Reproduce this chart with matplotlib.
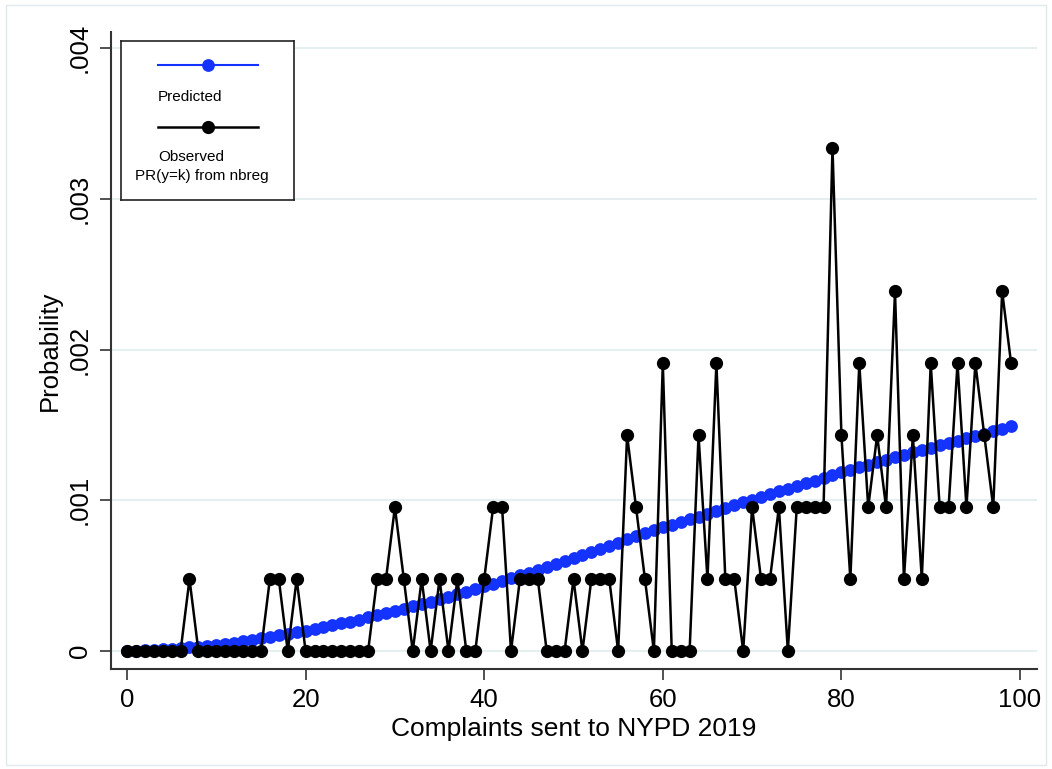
import matplotlib
matplotlib.use("Agg")
import matplotlib.pyplot as plt
from matplotlib.patches import Rectangle
from matplotlib.lines import Line2D
import numpy as np

plt.rcParams['font.family'] = ['Liberation Sans', 'DejaVu Sans']

# complaints count k = 0..99
k = np.arange(100)

# observed frequency, in units of one officer (1/2096 ~ 0.000477)
obs_units = [0, 0, 0, 0, 0, 0, 0, 1, 0, 0,
             0, 0, 0, 0, 0, 0, 1, 1, 0, 1,
             0, 0, 0, 0, 0, 0, 0, 0, 1, 1,
             2, 1, 0, 1, 0, 1, 0, 1, 0, 0,
             1, 2, 2, 0, 1, 1, 1, 0, 0, 0,
             1, 0, 1, 1, 1, 0, 3, 2, 1, 0,
             4, 0, 0, 0, 3, 1, 4, 1, 1, 0,
             2, 1, 1, 2, 0, 2, 2, 2, 2, 7,
             3, 1, 4, 2, 3, 2, 5, 1, 3, 1,
             4, 2, 2, 4, 2, 4, 3, 2, 5, 4]
unit = 0.000477
observed = np.array(obs_units) * unit

# predicted PR(y=k) from nbreg, in 1e-4
predicted_e4 = [0.00, 0.02, 0.05, 0.08, 0.11, 0.15, 0.19, 0.24, 0.29, 0.34,
                0.40, 0.48, 0.56, 0.65, 0.75, 0.85, 0.95, 1.05, 1.15, 1.25,
                1.35, 1.47, 1.59, 1.71, 1.83, 1.95, 2.09, 2.23, 2.37, 2.51,
                2.65, 2.81, 2.97, 3.13, 3.28, 3.43, 3.60, 3.77, 3.94, 4.12,
                4.30, 4.48, 4.66, 4.84, 5.02, 5.20, 5.40, 5.60, 5.80, 6.00,
                6.20, 6.40, 6.60, 6.80, 7.00, 7.20, 7.40, 7.60, 7.80, 8.00,
                8.20, 8.38, 8.56, 8.74, 8.92, 9.10, 9.29, 9.48, 9.67, 9.86,
                10.05, 10.23, 10.41, 10.59, 10.77, 10.95, 11.13, 11.31, 11.49, 11.67,
                11.85, 12.02, 12.19, 12.36, 12.53, 12.70, 12.86, 13.02, 13.18, 13.34,
                13.50, 13.65, 13.80, 13.95, 14.10, 14.25, 14.41, 14.57, 14.73, 14.90]
predicted = np.array(predicted_e4) * 1e-4

xticks = [0, 20, 40, 60, 80, 100]
yticks = [0, 0.001, 0.002, 0.003, 0.004]
ylabels = ['0', '.001', '.002', '.003', '.004']

blue = '#1433ff'
W, H = 1052, 769

fig = plt.figure(figsize=(W / 100, H / 100), dpi=100)
# thin outer frame
fig.patches.append(Rectangle((6 / W, 4 / H), (W - 12) / W, (H - 9) / H,
                             transform=fig.transFigure, fill=False,
                             edgecolor='#dfe9ec', linewidth=1))

ax = fig.add_axes([111 / W, 1 - 669 / H, (1037 - 111) / W, (669 - 32) / H])

for y in yticks:
    ax.axhline(y, color='#e6eff0', linewidth=1.5, zorder=0)

ax.plot(k, predicted, color=blue, linewidth=1.5, marker='o', markersize=9.2,
        markeredgewidth=0, zorder=2)
ax.plot(k, observed, color='black', linewidth=1.8, marker='o', markersize=9.5,
        markeredgewidth=0, zorder=3)

ax.set_xlim(-1.79, 101.9)
ax.set_ylim(-0.000119, 0.004106)
ax.set_xticks(xticks)
ax.set_yticks(yticks)
ax.set_yticklabels(ylabels, rotation=90, va='center')
ax.tick_params(axis='both', length=8, width=1.2, color='#333333',
               labelsize=18.5, pad=6)
for s in ['top', 'right']:
    ax.spines[s].set_visible(False)
for s in ['left', 'bottom']:
    ax.spines[s].set_linewidth(1.5)
    ax.spines[s].set_color('#333333')

ax.set_xlabel('Complaints sent to NYPD 2019', fontsize=19, labelpad=3)
ax.set_ylabel('Probability', fontsize=18.5, labelpad=4)

# Stata-style legend: key above label
lax = fig.add_axes([121 / W, 1 - 200 / H, (294 - 121) / W, (200 - 41) / H])
lax.set_xlim(0, 173)
lax.set_ylim(159, 0)
lax.set_xticks([])
lax.set_yticks([])
for s in lax.spines.values():
    s.set_linewidth(1.2)
    s.set_color('#222222')
lax.add_line(Line2D([37, 137], [24, 24], color=blue, linewidth=1.5))
lax.add_line(Line2D([87], [24], color=blue, marker='o', markersize=9.2,
                    markeredgewidth=0))
lax.text(37, 56, 'Predicted', fontsize=11, va='center', ha='left')
lax.add_line(Line2D([37, 137], [86, 86], color='black', linewidth=1.8))
lax.add_line(Line2D([87], [86], color='black', marker='o', markersize=9.5,
                    markeredgewidth=0))
lax.text(37, 116, 'Observed', fontsize=11, va='center', ha='left')
lax.text(14, 135, 'PR(y=k) from nbreg', fontsize=11, va='center', ha='left')

fig.savefig('out.png', dpi=100)
